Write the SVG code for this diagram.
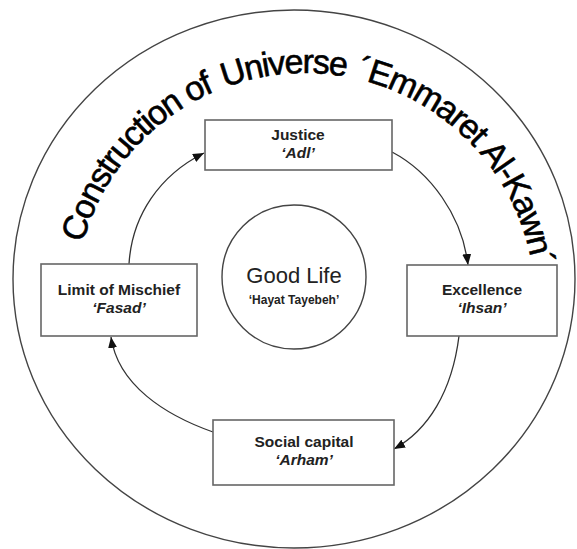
<svg xmlns="http://www.w3.org/2000/svg" width="577" height="549" viewBox="0 0 577 549">
<style>
.box{fill:#fff;stroke:#666;stroke-width:1.6}
.ring{fill:none;stroke:#444;stroke-width:1.4}
.conn{fill:none;stroke:#333;stroke-width:1.3}
.lbl{font-family:"Liberation Sans",Arial,sans-serif;font-weight:bold;font-size:15.5px;fill:#222;text-anchor:middle}
.it{font-style:italic}
.title{font-family:"Liberation Sans",Arial,sans-serif;font-size:34px;letter-spacing:-1.5px;fill:#000;stroke:#000;stroke-width:0.6}
</style>
<defs>
<marker id="ah" markerUnits="userSpaceOnUse" markerWidth="11" markerHeight="9" refX="11" refY="4.5" orient="auto">
<path d="M0,0 L11,4.5 L0,9 z" fill="#111"/>
</marker>
<path id="arc" d="M75,303 A230,230 0 0 1 535,303"/>
</defs>
<rect width="577" height="549" fill="#fff"/>
<g id="outer">
<ellipse class="ring" cx="294" cy="279" rx="281" ry="269"/>
</g>
<g id="title">
<text class="title"><textPath href="#arc" startOffset="60.6">Construction of</textPath></text>
<text class="title"><textPath href="#arc" startOffset="279">Universe</textPath></text>
<text class="title"><textPath href="#arc" startOffset="413">´Emmaret</textPath></text>
<text class="title"><textPath href="#arc" startOffset="558">Al-Kawn´</textPath></text>
</g>
<g id="connectors">
<path class="conn" d="M129,264 C132,215 160,175 204,153" marker-end="url(#ah)"/>
<path class="conn" d="M392,152 C430,172 462,215 468,265" marker-end="url(#ah)"/>
<path class="conn" d="M459,336 C452,392 428,430 394,449" marker-end="url(#ah)"/>
<path class="conn" d="M213,432 C165,415 118,385 111,337" marker-end="url(#ah)"/>
</g>
<g id="center">
<circle class="ring" cx="294" cy="277" r="72"/>
<text x="294" y="283" style="font-family:'Liberation Sans',Arial,sans-serif;font-size:22px;fill:#222;text-anchor:middle">Good Life</text>
<text x="294" y="304" style="font-family:'Liberation Sans',Arial,sans-serif;font-size:12px;font-weight:bold;fill:#222;text-anchor:middle">‘Hayat Tayebeh’</text>
</g>
<g id="justice">
<rect class="box" x="205" y="120" width="187" height="50"/>
<text class="lbl" x="298" y="140">Justice</text>
<text class="lbl it" x="298" y="158">‘Adl’</text>
</g>
<g id="excellence">
<rect class="box" x="407" y="265" width="150" height="71"/>
<text class="lbl" x="482" y="295">Excellence</text>
<text class="lbl it" x="482" y="313">‘Ihsan’</text>
</g>
<g id="social">
<rect class="box" x="213" y="420" width="181" height="65"/>
<text class="lbl" x="304" y="447">Social capital</text>
<text class="lbl it" x="304" y="465">‘Arham’</text>
</g>
<g id="mischief">
<rect class="box" x="41" y="264" width="156" height="72"/>
<text class="lbl" x="119" y="295">Limit of Mischief</text>
<text class="lbl it" x="119" y="313">‘Fasad’</text>
</g>
</svg>
